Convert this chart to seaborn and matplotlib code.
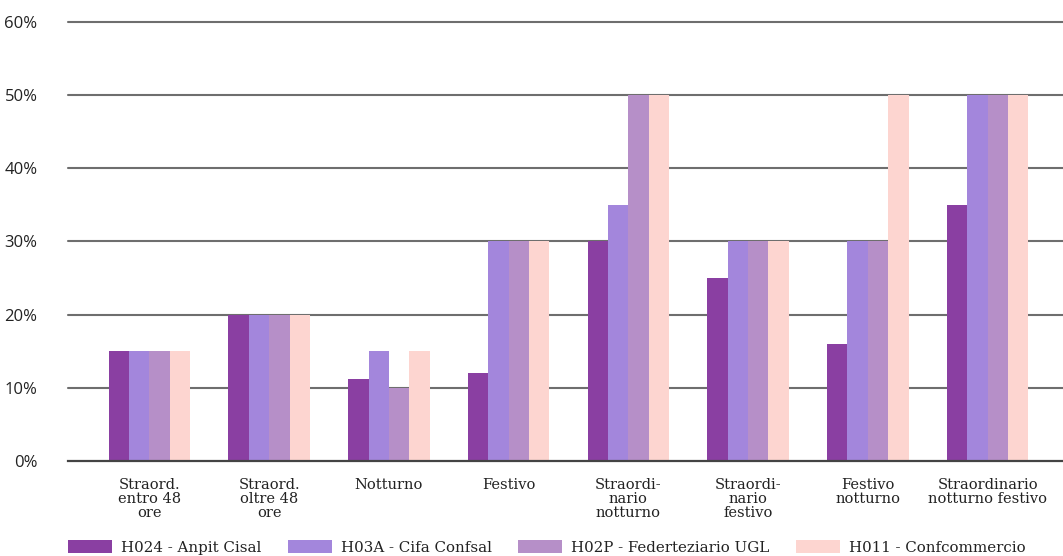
import matplotlib
matplotlib.use("Agg")
import matplotlib.pyplot as plt
import seaborn as sns
import pandas as pd
from matplotlib.patches import Patch

categories = [
    "Straord.\nentro 48\nore",
    "Straord.\noltre 48\nore",
    "Notturno",
    "Festivo",
    "Straordi-\nnario\nnotturno",
    "Straordi-\nnario\nfestivo",
    "Festivo\nnotturno",
    "Straordinario\nnotturno festivo",
]
series_names = [
    "H024 - Anpit Cisal",
    "H03A - Cifa Confsal",
    "H02P - Federteziario UGL",
    "H011 - Confcommercio",
]
h024 = [15, 20, 11.2, 12, 30, 25, 16, 35]
h03a = [15, 20, 15, 30, 35, 30, 30, 50]
h02p = [15, 20, 10, 30, 50, 30, 30, 50]
h011 = [15, 20, 15, 30, 50, 30, 50, 50]
colors = ["#8A3FA2", "#A386DC", "#B68FC8", "#FDD5D0"]
yticks = [0, 10, 20, 30, 40, 50, 60]

rows = []
for name, vals in zip(series_names, [h024, h03a, h02p, h011]):
    for cat, v in zip(categories, vals):
        rows.append({"categoria": cat, "serie": name, "valore": v})
df = pd.DataFrame(rows)

sns.set_theme(style="white")
serif = ["DejaVu Serif"]

fig = plt.figure(figsize=(10.63, 5.56), dpi=100)
ax = fig.add_axes([0.064, 0.1709, 0.936, 0.7895])

sns.barplot(data=df, x="categoria", y="valore", hue="serie",
            order=categories, hue_order=series_names, palette=colors,
            width=0.68, saturation=1, legend=False, ax=ax, zorder=3,
            linewidth=0, edgecolor="none")

ax.set_ylim(0, 60)
ax.set_xlim(-0.68, 7.63)
ax.set_yticks(yticks)
ax.set_yticklabels([f"{t}%" for t in yticks], fontsize=12, family="Open Sans",
                   color="#222222")
for t in yticks[1:]:
    ax.axhline(t, color="#6e6e6e", lw=1.5, zorder=1, clip_on=False)
ax.tick_params(axis="y", length=0, pad=22)
ax.tick_params(axis="x", length=0, pad=12)
for lab in ax.get_xticklabels():
    lab.set_family(serif)
    lab.set_fontsize(10.5)
    lab.set_linespacing(1.02)
    lab.set_color("#222222")
ax.set_xlabel("")
ax.set_ylabel("")
for s in ["top", "right", "left"]:
    ax.spines[s].set_visible(False)
ax.spines["bottom"].set_color("#444444")
ax.spines["bottom"].set_linewidth(1.6)
ax.spines["bottom"].set_zorder(4)

handles = [Patch(facecolor=c, edgecolor="none") for c in colors]
fig.legend(handles, series_names, loc="lower left",
           bbox_to_anchor=(0.064 - 0.013, -0.022), ncol=4, frameon=False,
           prop={"family": serif, "size": 10.8}, handlelength=2.95,
           handleheight=0.95, handletextpad=0.6, columnspacing=1.75,
           labelcolor="#222222")

fig.savefig("out.png", dpi=100)
